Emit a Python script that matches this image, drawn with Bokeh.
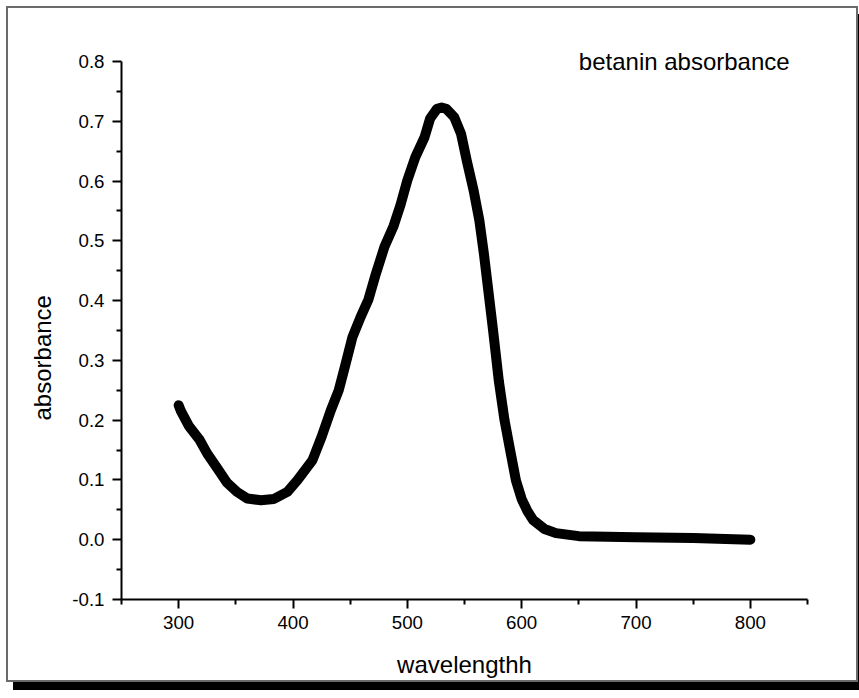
import math
from bokeh.plotting import figure
from bokeh.models import FixedTicker, Range1d, Label, PrintfTickFormatter, Title
from bokeh.embed import file_html
from bokeh.resources import INLINE

# ---- data ----
wavelength = [300, 302, 309, 318, 325, 334, 342, 351, 360, 372, 383, 395, 404,
              417, 425, 433, 440, 446, 452, 459, 466, 472, 480, 488, 494, 500,
              507, 515, 520, 526, 530, 534, 541, 547, 552, 558, 563, 567, 570,
              575, 580, 585, 590, 595, 600, 605, 610, 620, 630, 650, 700, 750, 800]
absorbance = [0.225, 0.215, 0.190, 0.168, 0.144, 0.119, 0.096, 0.080, 0.069,
              0.066, 0.068, 0.080, 0.100, 0.133, 0.172, 0.216, 0.250, 0.294,
              0.339, 0.372, 0.402, 0.442, 0.490, 0.525, 0.560, 0.601, 0.640,
              0.673, 0.705, 0.721, 0.723, 0.721, 0.707, 0.679, 0.634, 0.584,
              0.534, 0.478, 0.430, 0.350, 0.266, 0.200, 0.149, 0.099, 0.068,
              0.048, 0.033, 0.018, 0.011, 0.006, 0.004, 0.003, 0.000]

x_major = [300, 400, 500, 600, 700, 800]
x_minor = [250, 350, 450, 550, 650, 750, 850]
y_major = [-0.1, 0.0, 0.1, 0.2, 0.3, 0.4, 0.5, 0.6, 0.7, 0.8]
y_minor = [-0.05, 0.05, 0.15, 0.25, 0.35, 0.45, 0.55, 0.65, 0.75]

x_title = "wavelengthh"
y_title = "absorbance"
note_text = "betanin absorbance"

FONT = "Liberation Sans"

p = figure(frame_width=686, frame_height=583,
           x_range=Range1d(250, 850), y_range=Range1d(-0.1, 0.8753),
           output_backend="svg", toolbar_location=None,
           min_border_left=113, min_border_top=8,
           min_border_right=49, min_border_bottom=80)

p.background_fill_color = "white"
p.border_fill_color = "white"
p.outline_line_color = None
p.xgrid.visible = False
p.ygrid.visible = False

xax = p.xaxis[0]
yax = p.yaxis[0]
for ax in (xax, yax):
    ax.axis_line_color = "black"
    ax.axis_line_width = 2
    ax.major_tick_line_color = "black"
    ax.major_tick_line_width = 2
    ax.minor_tick_line_color = "black"
    ax.minor_tick_line_width = 2
    ax.major_tick_in = 0
    ax.major_tick_out = 9
    ax.minor_tick_in = 0
    ax.minor_tick_out = 5
    ax.major_label_text_font = FONT
    ax.major_label_text_font_size = "18.7px"
    ax.major_label_text_color = "black"

xax.ticker = FixedTicker(ticks=x_major, minor_ticks=x_minor)
yax.ticker = FixedTicker(ticks=y_major, minor_ticks=y_minor)
yax.formatter = PrintfTickFormatter(format="%.1f")
yax.bounds = (y_major[0], y_major[-1])
xax.major_label_standoff = 7
yax.major_label_standoff = 8

xax.axis_label = x_title
xax.axis_label_text_font = FONT
xax.axis_label_text_font_size = "24px"
xax.axis_label_text_font_style = "normal"
xax.axis_label_text_color = "black"
xax.axis_label_standoff = 19

# y title as a side title, started from the bottom with an offset (as in the reference)
p.add_layout(Title(text=y_title, align="left", offset=179,
                   vertical_align="bottom", standoff=27,
                   text_font=FONT, text_font_size="24px",
                   text_font_style="normal", text_color="black"), "left")

p.line(wavelength, absorbance, line_color="black", line_width=10,
       line_join="round", line_cap="round")

p.add_layout(Label(x=650, y=0.80, text=note_text, text_font=FONT,
                   text_font_size="24px", text_color="black",
                   text_baseline="alphabetic", text_align="left"))

p.styles = {"margin": "6px 0 0 6px",
            "border": "2px solid #6a6a6a",
            "box-shadow": "7px 8px 0 0 #000"}

open("out.html", "w").write(file_html(p, INLINE))
